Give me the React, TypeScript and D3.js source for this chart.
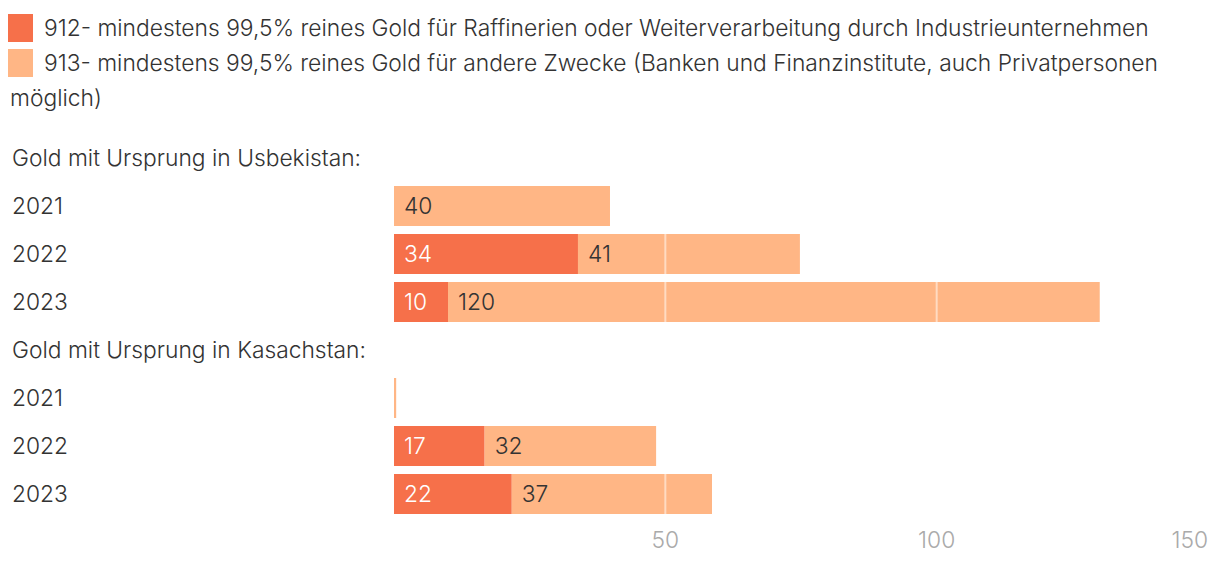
import React, { useEffect, useRef } from 'react';
import * as d3 from 'd3';

const groups = ['Gold mit Ursprung in Usbekistan:', 'Gold mit Ursprung in Kasachstan:'];
const years = ['2021', '2022', '2023'];
// values per group, per year
const gold912 = [
  [0, 33.9, 9.95],
  [0, 16.7, 21.7],
];
const gold913 = [
  [39.8, 40.9, 120.1],
  [0.4, 31.6, 36.9],
];
const xTicks = [50, 100, 150];
const legendLabels = [
  '912- mindestens 99,5% reines Gold für Raffinerien oder Weiterverarbeitung durch Industrieunternehmen',
  '913- mindestens 99,5% reines Gold für andere Zwecke (Banken und Finanzinstitute, auch Privatpersonen',
];
const legendWrap = 'möglich)';

const C912 = '#f6704a';
const C913 = '#ffb685';
const FONT = 'Inter, "Noto Sans", sans-serif';

const App: React.FC = () => {
  const ref = useRef<SVGSVGElement | null>(null);

  useEffect(() => {
    if (ref.current) draw();
  }, []);

  const draw = () => {
    const svg = d3.select(ref.current);
    svg.selectAll('*').remove();

    const width = 1220;
    const fs = 22.8;

    const x = d3.scaleLinear().domain([0, 150]).range([394, 1208]);

    // build rows: header + years for each group
    const rows: { key: string; type: string; g: number; i: number }[] = [];
    groups.forEach((g, gi) => {
      rows.push({ key: 'h' + gi, type: 'header', g: gi, i: -1 });
      years.forEach((yr, yi) => rows.push({ key: gi + '-' + yr, type: 'bar', g: gi, i: yi }));
    });

    const y = d3.scaleBand()
      .domain(rows.map(r => r.key))
      .range([134, 518])
      .paddingInner(1 / 6)
      .paddingOuter(1 / 12);

    const bw = y.bandwidth();

    // legend
    const legend = svg.append('g').attr('font-family', FONT).attr('font-size', fs)
      .attr('font-weight', 300).attr('fill', '#333');
    legendLabels.forEach((t, i) => {
      legend.append('rect')
        .attr('x', 8).attr('y', 14 + i * 35)
        .attr('width', 25).attr('height', 28)
        .attr('fill', i === 0 ? C912 : C913);
      legend.append('text')
        .attr('x', 44).attr('y', 28 + i * 35)
        .attr('dy', '0.36em')
        .text(t);
    });
    legend.append('text')
      .attr('x', 10).attr('y', 98)
      .attr('dy', '0.36em')
      .text(legendWrap);

    const chart = svg.append('g').attr('font-family', FONT).attr('font-size', fs).attr('font-weight', 300);

    rows.forEach(r => {
      const y0 = y(r.key) || 0;
      const cy = y0 + bw / 2;
      if (r.type === 'header') {
        chart.append('text')
          .attr('x', 12).attr('y', cy)
          .attr('dy', '0.36em')
          .attr('fill', '#333')
          .text(groups[r.g]);
        return;
      }
      chart.append('text')
        .attr('x', 12).attr('y', cy)
        .attr('dy', '0.36em')
        .attr('fill', '#333')
        .text(years[r.i]);

      const v1 = gold912[r.g][r.i];
      const v2 = gold913[r.g][r.i];
      if (v1 > 0) {
        chart.append('rect')
          .attr('x', x(0)).attr('y', y0)
          .attr('width', x(v1) - x(0)).attr('height', bw)
          .attr('fill', C912);
      }
      if (v2 > 0) {
        chart.append('rect')
          .attr('x', x(v1)).attr('y', y0)
          .attr('width', x(v1 + v2) - x(v1)).attr('height', bw)
          .attr('fill', C913);
      }
    });

    // gridlines drawn over bars
    xTicks.forEach(t => {
      rows.filter(r => r.type === 'bar').forEach(r => {
        const y0 = y(r.key) || 0;
        chart.append('line')
          .attr('x1', x(t)).attr('x2', x(t))
          .attr('y1', y0).attr('y2', y0 + bw)
          .attr('stroke', '#fff')
          .attr('stroke-opacity', 0.5)
          .attr('stroke-width', 2);
      });
    });

    // value labels
    rows.filter(r => r.type === 'bar').forEach(r => {
      const y0 = y(r.key) || 0;
      const cy = y0 + bw / 2;
      const v1 = gold912[r.g][r.i];
      const v2 = gold913[r.g][r.i];
      if (v1 >= 1) {
        chart.append('text')
          .attr('x', x(0) + 10).attr('y', cy).attr('dy', '0.36em')
          .attr('fill', '#fff')
          .text(d3.format('.0f')(v1));
      }
      if (v2 >= 1) {
        chart.append('text')
          .attr('x', x(v1) + 10).attr('y', cy).attr('dy', '0.36em')
          .attr('fill', '#333')
          .text(d3.format('.0f')(v2));
      }
    });

    // x axis labels
    xTicks.forEach(t => {
      chart.append('text')
        .attr('x', t === 150 ? width - 12 : x(t))
        .attr('y', 540).attr('dy', '0.36em')
        .attr('text-anchor', t === 150 ? 'end' : 'middle')
        .attr('fill', '#aaa')
        .text(t);
    });
  };

  return (
    <div style={{ position: 'absolute', left: 0, top: 0 }}>
      <svg ref={ref} width={1220} height={562} style={{ display: 'block' }}></svg>
    </div>
  );
};

export default App;
